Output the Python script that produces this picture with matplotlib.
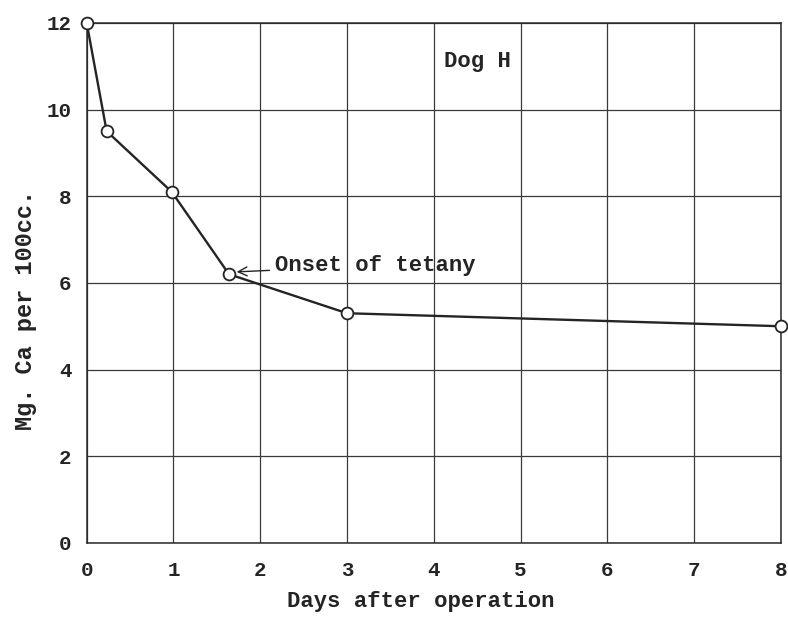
import matplotlib
matplotlib.use("Agg")
import matplotlib.pyplot as plt

plt.rcParams['font.family'] = ['Liberation Mono', 'DejaVu Sans Mono']
plt.rcParams['font.weight'] = 'bold'
plt.rcParams['axes.labelweight'] = 'bold'

# serum calcium after parathyroidectomy, dog H
days = [0, 0.23, 0.98, 1.64, 3.0, 8.0]
ca_mg = [12.0, 9.5, 8.1, 6.2, 5.3, 5.0]
x_ticks = [0, 1, 2, 3, 4, 5, 6, 7, 8]
y_ticks = [0, 2, 4, 6, 8, 10, 12]

ink = '#242424'

fig = plt.figure(figsize=(7.88, 6.17), dpi=100)
ax = fig.add_axes([0.110, 0.120, 0.881, 0.843])

ax.plot(days, ca_mg, color=ink, linewidth=1.7, marker='o', markersize=8.5,
        markerfacecolor='white', markeredgecolor=ink, markeredgewidth=1.3,
        clip_on=False, zorder=3)

ax.set_xlim(0, 8)
ax.set_ylim(0, 12)
ax.set_xticks(x_ticks)
ax.set_yticks(y_ticks)
ax.tick_params(length=0, labelsize=15, colors=ink)
ax.tick_params(axis='x', pad=13)
ax.tick_params(axis='y', pad=11)
ax.grid(True, color='#3a3a3a', linewidth=0.9)
ax.set_axisbelow(True)
for s in ax.spines.values():
    s.set_color('#2a2a2a')
    s.set_linewidth(1.1)

ax.set_xlabel('Days after operation', fontsize=16, color=ink)
ax.set_ylabel('Mg. Ca per 100cc.', fontsize=17, color=ink)
ax.xaxis.set_label_coords(0.481, -0.092)
ax.yaxis.set_label_coords(-0.072, 0.448)

ax.annotate('Onset of tetany', xy=(1.68, 6.25), xytext=(2.17, 6.4),
            fontsize=16, color=ink, va='center', ha='left',
            arrowprops=dict(arrowstyle='->', color=ink, lw=1.0,
                            shrinkA=2, shrinkB=3))
ax.text(4.12, 11.1, 'Dog H', fontsize=16, color=ink, va='center', ha='left')

fig.savefig('out.png', dpi=100, facecolor='white')
